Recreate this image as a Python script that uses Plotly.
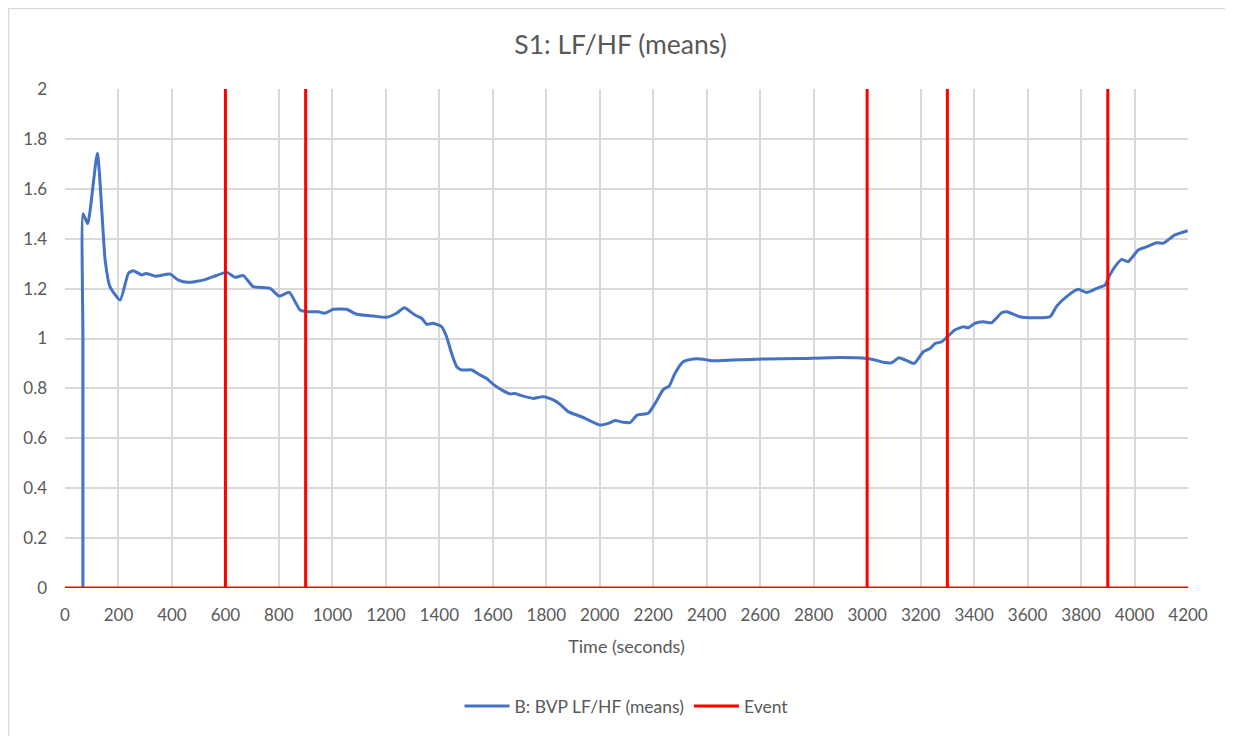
import plotly.graph_objects as go

# BVP LF/HF means over time (seconds)
time_s = [67, 67, 67.5, 85, 121, 150, 168, 206, 237, 255, 287, 303, 337, 393, 424, 461,
          517, 555, 605, 636, 667, 704, 767, 801, 839, 879, 910, 947, 972, 1003, 1053,
          1091, 1153, 1203, 1240, 1269, 1309, 1334, 1353, 1377, 1409, 1427, 1446, 1465,
          1484, 1521, 1552, 1577, 1602, 1633, 1664, 1683, 1708, 1751, 1789, 1826, 1851,
          1882, 1920, 1945, 1970, 2001, 2032, 2057, 2088, 2113, 2140, 2181, 2207, 2238,
          2260, 2281, 2312, 2350, 2387, 2418, 2499, 2624, 2749, 2898, 2998, 3029, 3060,
          3092, 3119, 3148, 3176, 3210, 3235, 3254, 3279, 3303, 3328, 3360, 3378, 3403,
          3434, 3466, 3503, 3522, 3572, 3621, 3684, 3709, 3746, 3790, 3821, 3865, 3890,
          3908, 3927, 3952, 3976, 4014, 4039, 4083, 4108, 4151, 4199]
lf_hf = [0, 1.0, 1.50, 1.46, 1.742, 1.315, 1.208, 1.154, 1.261, 1.272, 1.255, 1.261, 1.25,
         1.258, 1.234, 1.225, 1.234, 1.248, 1.265, 1.245, 1.252, 1.208, 1.201, 1.17,
         1.185, 1.114, 1.107, 1.107, 1.101, 1.117, 1.117, 1.097, 1.09, 1.085, 1.101,
         1.123, 1.094, 1.081, 1.057, 1.061, 1.047, 1.007, 0.94, 0.887, 0.874, 0.874,
         0.854, 0.84, 0.816, 0.794, 0.778, 0.78, 0.771, 0.76, 0.767, 0.754, 0.737,
         0.707, 0.691, 0.68, 0.667, 0.653, 0.66, 0.671, 0.664, 0.663, 0.693, 0.70,
         0.74, 0.796, 0.81, 0.86, 0.907, 0.918, 0.917, 0.911, 0.914, 0.918, 0.92,
         0.924, 0.92, 0.914, 0.905, 0.903, 0.923, 0.911, 0.90, 0.947, 0.96, 0.98,
         0.987, 1.01, 1.034, 1.047, 1.043, 1.061, 1.067, 1.063, 1.103, 1.107, 1.087,
         1.083, 1.087, 1.13, 1.168, 1.197, 1.184, 1.204, 1.214, 1.255, 1.288, 1.317,
         1.308, 1.355, 1.365, 1.384, 1.382, 1.415, 1.432]

# event markers (seconds)
event_times = [600, 900, 3000, 3300, 3900]
event_height = 2
x_end = 4200

# event series: flat at zero with a spike at each event
ev_x, ev_y = [0], [0]
for t in event_times:
    ev_x += [t, t, t]
    ev_y += [0, event_height, 0]
ev_x.append(x_end)
ev_y.append(0)

FONT = "Lato, 'Open Sans', sans-serif"
GREY = "#595959"

# page body adds an 8px offset, so the figure is sized to fit the window
W, H = 1225, 728
L, T, PW, PH = 57, 81, 1123, 499

fig = go.Figure()
fig.add_trace(go.Scatter(x=time_s, y=lf_hf, mode="lines", name="B: BVP LF/HF (means)",
                         line=dict(color="#4472C4", width=3, shape="spline", smoothing=0.5)))
fig.add_trace(go.Scatter(x=ev_x, y=ev_y, mode="lines", name="Event",
                         line=dict(color="#FF0000", width=3)))

fig.update_layout(
    width=W, height=H,
    margin=dict(l=L, r=W - L - PW, t=T, b=H - T - PH),
    paper_bgcolor="white", plot_bgcolor="white",
    font=dict(family=FONT, color=GREY, size=17),
    title=dict(text="S1: LF/HF (means)", x=0.5, xanchor="center",
               y=1 - 37 / H, yanchor="middle", font=dict(size=26.5, color=GREY)),
    showlegend=True,
    legend=dict(orientation="h", x=0.5, xanchor="center", y=-(698 - T - PH) / PH,
                yanchor="middle", font=dict(size=17.5, color=GREY), itemwidth=45),
    xaxis=dict(range=[0, x_end], dtick=200, tick0=0, showgrid=True, gridcolor="#D9D9D9",
               gridwidth=1.5, zeroline=False, showline=False, ticks="", ticklabelstandoff=15,
               title=dict(text="Time (seconds)", standoff=16, font=dict(size=18, color=GREY))),
    yaxis=dict(range=[0, 2], dtick=0.2, tick0=0, showgrid=True, gridcolor="#D9D9D9",
               gridwidth=1.5, zeroline=False, showline=False, ticks="", ticklabelstandoff=17),
    shapes=[dict(type="rect", xref="paper", yref="paper",
                 x0=(0.5 - L) / PW, x1=(1223 - L) / PW,
                 y0=-(H + 10 - T - PH) / PH, y1=(T + PH - 0.5) / PH,
                 line=dict(color="#D9D9D9", width=1.5), layer="below")],
)

fig.write_html("out.html")
